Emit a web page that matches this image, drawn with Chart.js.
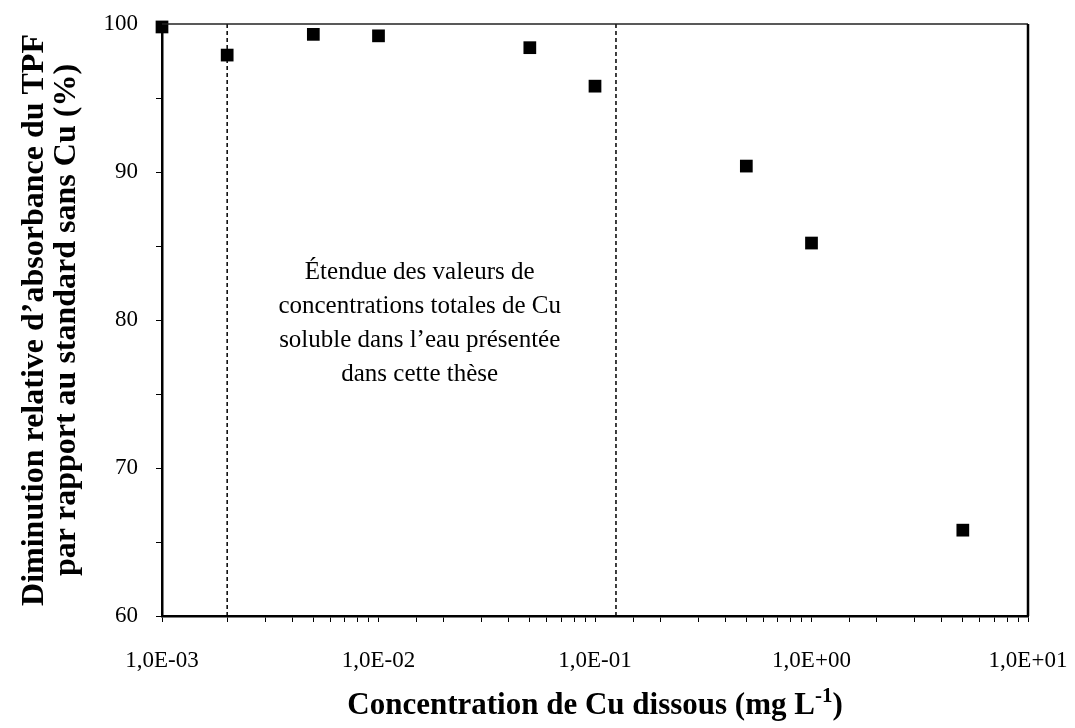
<!DOCTYPE html>
<html>
<head>
<meta charset="utf-8">
<script src="https://cdn.jsdelivr.net/npm/chart.js@4.4.1/dist/chart.umd.min.js"></script>
<style>
  html, body { margin: 0; background: #fff; }
</style>
</head>
<body>
<canvas id="chart" width="1075" height="728"></canvas>
<script>
// data
const concentrations = [0.001, 0.002, 0.005, 0.01, 0.05, 0.1, 0.5, 1, 5];
const decreasePct = [99.8, 97.9, 99.3, 99.2, 98.4, 95.8, 90.4, 85.2, 65.8];
const rangeBounds = [0.002, 0.125];
const xTickLabels = ['1,0E-03', '1,0E-02', '1,0E-01', '1,0E+00', '1,0E+01'];
const yTickLabels = [60, 70, 80, 90, 100];
const noteLines = [
  'Étendue des valeurs de',
  'concentrations totales de Cu',
  'soluble dans l\u2019eau présentée',
  'dans cette thèse'
];
const noteAt = { x: 0.0155, y: 83.2 };

const serif = '"Liberation Serif", "Times New Roman", serif';

const decades = [0.001, 0.01, 0.1, 1, 10];

const boundLines = rangeBounds.map(b => ({
  data: [{ x: b, y: 60 }, { x: b, y: 100 }],
  showLine: true,
  borderColor: '#000',
  borderWidth: 1.5,
  borderDash: [4, 3],
  pointRadius: 0
}));

const noPad = s => {
  s.paddingTop = 0;
  s.paddingBottom = 0;
  s.paddingLeft = 0;
  s.paddingRight = 0;
};

const framePlugin = {
  id: 'frame',
  afterDraw(chart) {
    const { ctx, chartArea: a } = chart;
    ctx.save();
    ctx.strokeStyle = '#222';
    ctx.lineWidth = 1.5;
    ctx.beginPath();
    ctx.moveTo(a.left, a.top);
    ctx.lineTo(a.right, a.top);
    ctx.stroke();
    ctx.lineWidth = 2.5;
    ctx.strokeStyle = '#000';
    ctx.beginPath();
    ctx.moveTo(a.right, a.top);
    ctx.lineTo(a.right, a.bottom);
    ctx.stroke();
    ctx.restore();
  }
};

const notePlugin = {
  id: 'note',
  afterDatasetsDraw(chart) {
    const { ctx, scales } = chart;
    const cx = scales.x.getPixelForValue(noteAt.x);
    const cy = scales.y.getPixelForValue(noteAt.y);
    ctx.save();
    ctx.fillStyle = '#000';
    ctx.font = '25px ' + serif;
    ctx.textAlign = 'center';
    ctx.textBaseline = 'middle';
    noteLines.forEach((line, i) => ctx.fillText(line, cx, cy + i * 34));
    ctx.restore();
  }
};

// x axis title with superscript
const xTitlePlugin = {
  id: 'xTitle',
  afterDraw(chart) {
    const { ctx, chartArea: a } = chart;
    const main = 'Concentration de Cu dissous (mg L';
    const sup = '-1';
    const close = ')';
    ctx.save();
    ctx.fillStyle = '#000';
    ctx.textBaseline = 'alphabetic';
    const big = 'bold 31px ' + serif;
    const small = 'bold 21px ' + serif;
    ctx.font = big;
    const w1 = ctx.measureText(main).width;
    const w3 = ctx.measureText(close).width;
    ctx.font = small;
    const w2 = ctx.measureText(sup).width;
    let x = (a.left + a.right) / 2 - (w1 + w2 + w3) / 2;
    const y = 714;
    ctx.font = big;
    ctx.fillText(main, x, y);
    x += w1;
    ctx.font = small;
    ctx.fillText(sup, x, y - 12);
    x += w2;
    ctx.font = big;
    ctx.fillText(close, x, y);
    ctx.restore();
  }
};

new Chart(document.getElementById('chart'), {
  type: 'scatter',
  data: {
    datasets: [
      {
        data: concentrations.map((c, i) => ({ x: c, y: decreasePct[i] })),
        pointStyle: 'rect',
        pointRadius: 9,
        pointHoverRadius: 9,
        backgroundColor: '#000',
        borderColor: '#000',
        borderWidth: 0,
        clip: false
      },
      ...boundLines
    ]
  },
  options: {
    responsive: false,
    animation: false,
    layout: { padding: { top: 24, right: 47, left: 0, bottom: 0 } },
    plugins: {
      legend: { display: false },
      tooltip: { enabled: false }
    },
    scales: {
      x: {
        type: 'logarithmic',
        min: 0.001,
        max: 10,
        afterFit: s => { s.height = 112; noPad(s); },
        border: { display: true, color: '#000', width: 2.5 },
        grid: { drawOnChartArea: false, drawTicks: true, tickLength: 6, color: '#000', lineWidth: 1 },
        ticks: {
          autoSkip: false,
          maxRotation: 0,
          padding: 25,
          color: '#000',
          font: { family: serif, size: 23 },
          callback: v => {
            const i = decades.findIndex(d => Math.abs(v - d) / d < 1e-6);
            return i >= 0 ? xTickLabels[i] : '';
          }
        },
        title: { display: false }
      },
      y: {
        min: 60,
        max: 100,
        afterFit: s => { s.width = 162; noPad(s); },
        border: { display: true, color: '#000', width: 2.5 },
        grid: { drawOnChartArea: false, drawTicks: true, tickLength: 6, color: '#000', lineWidth: 1 },
        ticks: {
          stepSize: 5,
          padding: 18,
          color: '#000',
          font: { family: serif, size: 23 },
          callback: v => (yTickLabels.includes(v) ? String(v) : '')
        },
        title: {
          display: true,
          text: ['Diminution relative d\u2019absorbance du TPF', 'par rapport au standard sans Cu (%)'],
          color: '#000',
          font: { family: serif, size: 32, weight: 'bold', lineHeight: 1.0 },
          padding: { top: 19, bottom: 0 }
        }
      }
    }
  },
  plugins: [framePlugin, notePlugin, xTitlePlugin]
});
</script>
</body>
</html>
